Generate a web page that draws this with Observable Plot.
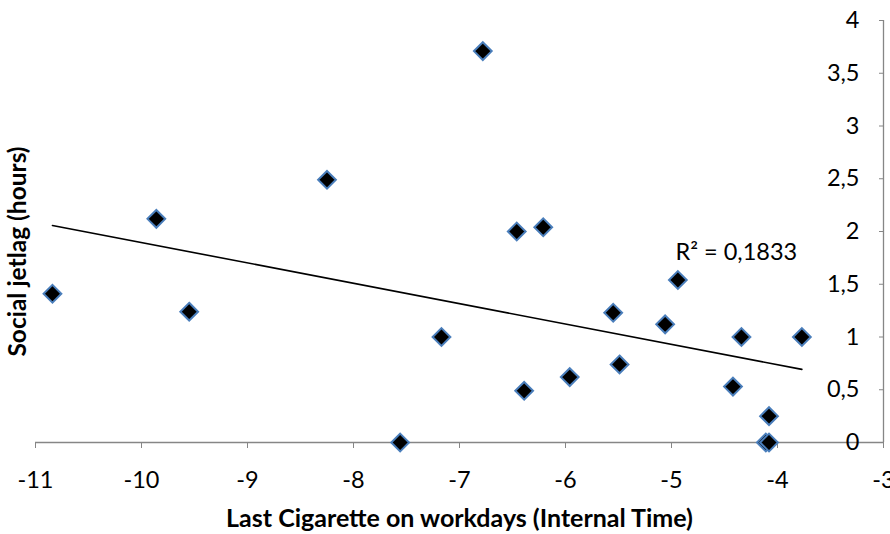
<!DOCTYPE html>
<html>
<head>
<meta charset="utf-8">
<script src="https://cdn.jsdelivr.net/npm/d3@7"></script>
<script src="https://cdn.jsdelivr.net/npm/@observablehq/plot@0.6"></script>
<style>
  html, body { margin: 0; padding: 0; background: #fff; }
  #chart svg { display: block; }
</style>
</head>
<body>
<div id="chart"></div>
<script>
// Data
const lastCigarette = [-10.84, -9.86, -9.55, -8.25, -7.56, -7.17, -6.78, -6.46, -6.39, -6.21, -5.96,
                       -5.55, -5.49, -5.06, -4.94, -4.42, -4.34, -4.08, -4.11, -4.08, -3.77];
const socialJetlag = [1.41, 2.12, 1.24, 2.49, 0.0, 1.0, 3.71, 2.0, 0.49, 2.04, 0.62,
                      1.23, 0.74, 1.12, 1.54, 0.53, 1.0, 0.25, 0.0, 0.0, 1.0];
const xTicks = [-11, -10, -9, -8, -7, -6, -5, -4, -3];
const yTicks = [0, 0.5, 1, 1.5, 2, 2.5, 3, 3.5, 4];
const xTitle = "Last Cigarette on workdays (Internal Time)";
const yTitle = "Social jetlag (hours)";
const r2Label = "R² = 0,1833";

const points = lastCigarette.map((x, i) => ({x, y: socialJetlag[i]}));
const fmtY = d => String(d).replace(".", ",");
const fmtX = d => String(d);

const FONT = "Lato, 'Open Sans', sans-serif";
const AXIS = "#868686";
const FS = 23.5;

const chart = Plot.plot({
  width: 890,
  height: 534,
  marginLeft: 35,
  marginRight: 7,
  marginTop: 20,
  marginBottom: 92,
  style: {fontFamily: FONT, background: "#fff", color: "#000"},
  x: {domain: [-11, -3]},
  y: {domain: [0, 4]},
  marks: [
    // axis lines
    Plot.ruleY([0], {stroke: AXIS, strokeWidth: 1.3}),
    Plot.ruleX([-3], {stroke: AXIS, strokeWidth: 1.3}),
    // x axis ticks and labels
    Plot.axisX({ticks: xTicks, tickSize: 6, tickPadding: 23, tickFormat: fmtX,
                stroke: AXIS, fontSize: FS, fill: "#000", label: null}),
    // y axis ticks (inward) on the right
    Plot.axisY({anchor: "right", ticks: yTicks, tickSize: 5, dx: -5, tickFormat: () => "",
                stroke: AXIS, label: null}),
    // y tick labels, left of the right-hand axis
    Plot.text(yTicks, {x: () => -3, y: d => d, text: fmtY, textAnchor: "end", dx: -24,
                       fontSize: FS, fill: "#000"}),
    // regression trend line
    Plot.linearRegressionY(points, {x: "x", y: "y", ci: 0, stroke: "#000", strokeWidth: 1.6}),
    // diamond markers
    Plot.dot(points, {x: "x", y: "y", symbol: "diamond2", r: 8, fill: "#000",
                      stroke: "#4a7ebb", strokeWidth: 2}),
    // R² annotation
    Plot.text([r2Label], {frameAnchor: "top-right", text: d => d, textAnchor: "start",
                          lineAnchor: "middle", dx: -208, dy: 232, fontSize: FS, fill: "#000"}),
    // axis titles
    Plot.text([xTitle], {frameAnchor: "bottom", text: d => d, textAnchor: "middle",
                         lineAnchor: "middle", dy: 76,
                         fontSize: 25, fontWeight: "bold", fill: "#000"}),
    Plot.text([yTitle], {frameAnchor: "left", text: d => d, rotate: -90, textAnchor: "middle",
                         lineAnchor: "middle", dx: -17, dy: 20,
                         fontSize: 24.5, fontWeight: "bold", fill: "#000"})
  ]
});
document.getElementById("chart").appendChild(chart);
</script>
</body>
</html>
